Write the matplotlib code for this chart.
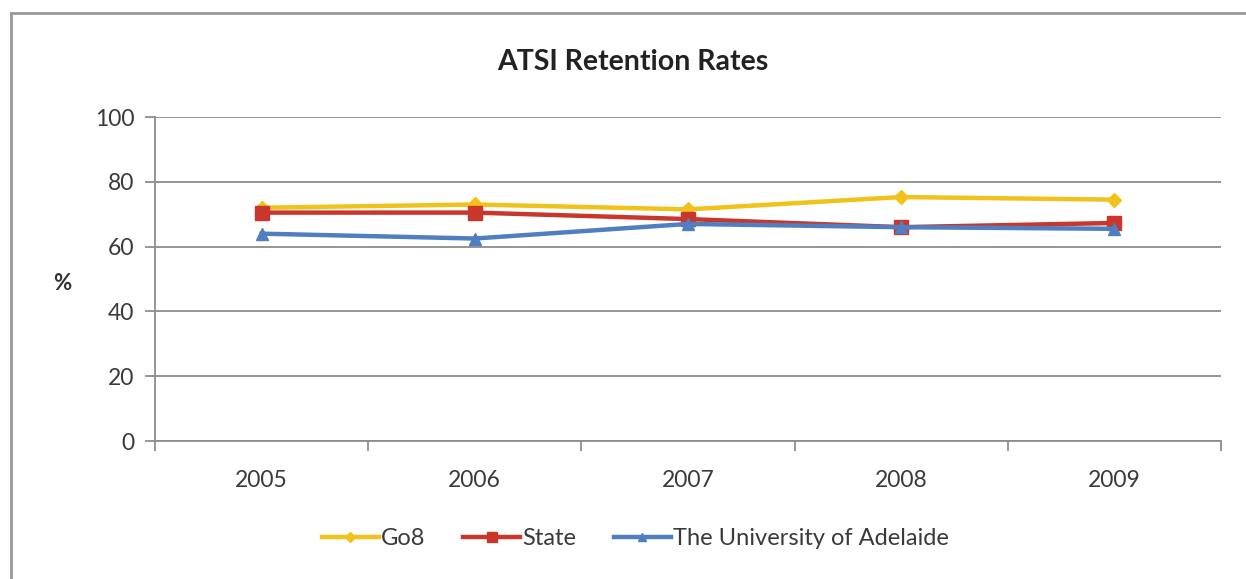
import matplotlib.pyplot as plt
import numpy as np

years = ["2005", "2006", "2007", "2008", "2009"]
go8 = [72.0, 73.0, 71.5, 75.3, 74.5]
state = [70.5, 70.5, 68.5, 66.0, 67.3]
adelaide = [64.0, 62.5, 67.0, 66.0, 65.5]

plt.rcParams["font.family"] = ["Lato", "DejaVu Sans"]

fig = plt.figure(figsize=(12.46, 5.79), dpi=100)
ax = fig.add_axes([0.1244, 0.2383, 0.8555, 0.5596])

x = np.arange(len(years))
ax.plot(x, go8, color="#F0C21A", lw=3.2, marker="D", ms=7, label="Go8")
ax.plot(x, state, color="#C9372C", lw=3.2, marker="s", ms=10, label="State")
ax.plot(x, adelaide, color="#4F7FC0", lw=3.2, marker="^", ms=9,
        label="The University of Adelaide")

ax.set_xlim(-0.5, len(years) - 0.5)
ax.set_ylim(0, 100)
ax.set_yticks(range(0, 101, 20))
ax.grid(axis="y", color="#8c8c8c", lw=1.3)
ax.set_axisbelow(True)

# category labels in the middle, tick marks on the boundaries
ax.set_xticks(x)
ax.set_xticklabels(years, fontsize=16.5, color="#3a3a3a")
ax.tick_params(axis="x", which="major", length=0, pad=21)
ax.set_xticks(np.arange(-0.5, len(years)), minor=True)
ax.tick_params(axis="x", which="minor", length=7, color="#8c8c8c", width=1.3)
ax.tick_params(axis="y", length=7, color="#8c8c8c", width=1.3,
               labelsize=16.5, labelcolor="#3a3a3a", pad=8)

for side in ["top", "right"]:
    ax.spines[side].set_visible(False)
for side in ["left", "bottom"]:
    ax.spines[side].set_color("#8c8c8c")
    ax.spines[side].set_linewidth(1.3)

ax.set_ylabel("%", rotation=0, fontsize=16, fontweight="bold",
              color="#333333", labelpad=0)
ax.yaxis.set_label_coords(-0.087, 0.455)

fig.text(0.508, 0.893, "ATSI Retention Rates", ha="center", va="center",
         fontsize=20.5, fontweight="bold", color="#222222")

fig.legend(loc="center", bbox_to_anchor=(0.51, 0.07), ncol=3, frameon=False,
           fontsize=17, handlelength=2.4, handletextpad=0.1, columnspacing=1.6,
           markerscale=0.7, labelcolor="#3a3a3a")

# outer chart frame (only left and top edges visible)
fig.add_artist(plt.Line2D([0.0085, 0.0085], [0.0, 0.978], color="#999999",
                          lw=2, transform=fig.transFigure))
fig.add_artist(plt.Line2D([0.0085, 1.0], [0.978, 0.978], color="#999999",
                          lw=2, transform=fig.transFigure))

fig.savefig("out.png", dpi=100)
